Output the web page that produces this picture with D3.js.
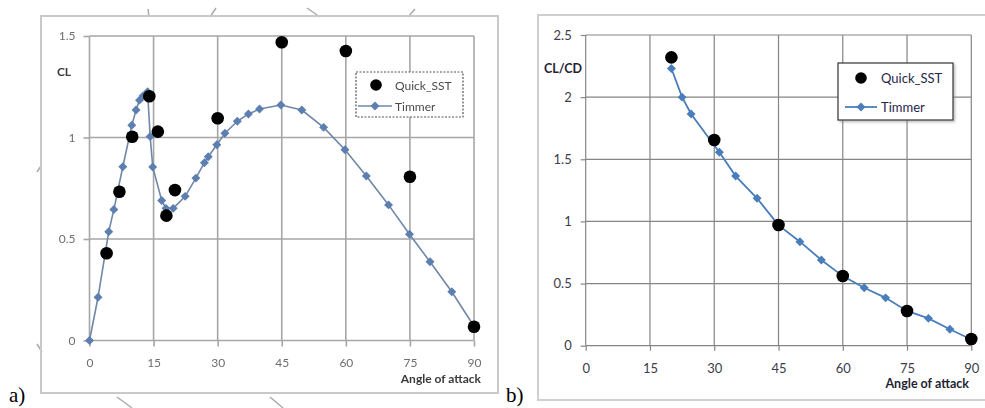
<!DOCTYPE html>
<html>
<head>
<meta charset="utf-8">
<script src="https://cdn.jsdelivr.net/npm/d3@7"></script>
<style>
  html, body { margin: 0; padding: 0; background: #fff; }
  svg { display: block; }
  text { font-family: Lato, "Open Sans", "DejaVu Sans", sans-serif; }
</style>
</head>
<body>
<svg id="fig" width="985" height="408"></svg>
<script>
// ---- data -------------------------------------------------------------
// a) lift coefficient vs angle of attack
const clQuickAngle = [4, 7, 10, 14, 16, 18, 20, 30, 45, 60, 75, 90];
const clQuickValue = [0.43, 0.733, 1.004, 1.203, 1.029, 0.615, 0.741, 1.095, 1.469, 1.426, 0.807, 0.068];
const clTimmerAngle = [0, 2, 4.5, 5.7, 7.8, 9.9, 10.9, 11.7, 12.5, 13.6, 14.2, 14.8, 16.9, 17.9, 19.6, 22.4, 24.9, 26.9, 27.8, 29.8, 31.7, 34.6, 37.2, 39.8, 44.8, 49.7, 54.8, 59.8, 64.8, 70, 74.9, 79.7, 84.8, 90];
const clTimmerValue = [0, 0.213, 0.536, 0.645, 0.856, 1.06, 1.135, 1.184, 1.205, 1.225, 1.005, 0.855, 0.69, 0.651, 0.651, 0.71, 0.8, 0.876, 0.905, 0.964, 1.021, 1.08, 1.116, 1.14, 1.16, 1.135, 1.05, 0.94, 0.81, 0.668, 0.523, 0.388, 0.24, 0.07];

// b) lift-to-drag ratio vs angle of attack
const ldQuickAngle = [20, 30, 45, 60, 75, 90];
const ldQuickValue = [2.32, 1.655, 0.971, 0.561, 0.279, 0.054];
const ldTimmerAngle = [20, 22.5, 24.6, 31.2, 35, 40, 45, 50, 55, 60, 65, 70, 75, 80, 85, 90];
const ldTimmerValue = [2.23, 2.0, 1.864, 1.556, 1.365, 1.186, 0.97, 0.837, 0.69, 0.56, 0.466, 0.385, 0.28, 0.22, 0.132, 0.05];

const xTicks = [0, 15, 30, 45, 60, 75, 90];
const clTicks = [0, 0.5, 1, 1.5];
const ldTicks = [0, 0.5, 1, 1.5, 2, 2.5];
const seriesNames = ["Quick_SST", "Timmer"];

// ---- helpers ----------------------------------------------------------
const svg = d3.select("#fig");
const zip = (a, b) => a.map((v, i) => [v, b[i]]);

// square diamond marker, like a spreadsheet series marker
const diamondType = {
  draw(ctx, size) {
    const r = Math.sqrt(size / 2);
    ctx.moveTo(0, -r); ctx.lineTo(r, 0); ctx.lineTo(0, r); ctx.lineTo(-r, 0); ctx.closePath();
  }
};

const defs = svg.append("defs");
defs.append("filter").attr("id", "soft")
  .attr("x", "-5%").attr("y", "-5%").attr("width", "110%").attr("height", "110%")
  .append("feGaussianBlur").attr("stdDeviation", 0.65);
const shadow = defs.append("filter").attr("id", "shadow");
shadow.append("feDropShadow").attr("dx", 1.5).attr("dy", 1.5).attr("stdDeviation", 0.8)
  .attr("flood-color", "#888").attr("flood-opacity", 0.6);

function drawPanel(g, cfg) {
  const { x, y, yTicks, timmer, quick } = cfg;

  // outer frame of the chart
  g.append("rect")
    .attr("x", cfg.frame[0]).attr("y", cfg.frame[1])
    .attr("width", cfg.frame[2]).attr("height", cfg.frame[3])
    .attr("fill", "none").attr("stroke", cfg.frameColor).attr("stroke-width", 2);

  // grid
  const grid = g.append("g").attr("stroke", cfg.gridColor).attr("stroke-width", cfg.gridWidth);
  grid.selectAll("line.v").data(xTicks).join("line").attr("class", "v")
    .attr("x1", d => x(d)).attr("x2", d => x(d))
    .attr("y1", y.range()[0]).attr("y2", y.range()[1]);
  grid.selectAll("line.h").data(yTicks).join("line").attr("class", "h")
    .attr("y1", d => y(d)).attr("y2", d => y(d))
    .attr("x1", x.range()[0]).attr("x2", x.range()[1]);

  // axes (ticks + labels); domain drawn by grid lines
  const yAxis = g.append("g").attr("transform", `translate(${x.range()[0]},0)`)
    .call(d3.axisLeft(y).tickValues(yTicks).tickSize(cfg.tickLen).tickPadding(cfg.yPad).tickFormat(d3.format("")));
  const xAxis = g.append("g").attr("transform", `translate(0,${y.range()[0]})`)
    .call(d3.axisBottom(x).tickValues(xTicks).tickSize(cfg.tickLen).tickPadding(cfg.xPad).tickFormat(d3.format("")));
  [yAxis, xAxis].forEach(a => {
    a.select(".domain").remove();
    a.selectAll(".tick line").attr("stroke", cfg.gridColor).attr("stroke-width", cfg.gridWidth);
    a.selectAll(".tick text").attr("fill", cfg.tickColor)
      .style("font-family", "Lato, sans-serif").style("font-size", cfg.tickSize + "px");
  });

  // axis titles
  g.append("text").attr("x", cfg.yTitle[0]).attr("y", cfg.yTitle[1])
    .attr("text-anchor", "middle").attr("dominant-baseline", "central")
    .attr("font-weight", "bold").attr("font-size", cfg.titleSize).attr("fill", cfg.titleColor)
    .text(cfg.yLabel);
  g.append("text").attr("x", cfg.xTitle[0]).attr("y", cfg.xTitle[1])
    .attr("text-anchor", "end").attr("dominant-baseline", "central")
    .attr("font-weight", "bold").attr("font-size", cfg.titleSize).attr("fill", cfg.titleColor)
    .text("Angle of attack");

  // Timmer series: line + diamonds
  const line = d3.line().x(d => x(d[0])).y(d => y(d[1]));
  g.append("path").datum(timmer).attr("d", line)
    .attr("fill", "none").attr("stroke", cfg.lineColor).attr("stroke-width", cfg.lineWidth);
  g.append("g").selectAll("path").data(timmer).join("path")
    .attr("transform", d => `translate(${x(d[0])},${y(d[1])})`)
    .attr("d", d3.symbol(diamondType, cfg.diamondSize))
    .attr("fill", cfg.markerColor);

  // Quick_SST series: black dots
  g.append("g").selectAll("circle").data(quick).join("circle")
    .attr("cx", d => x(d[0])).attr("cy", d => y(d[1])).attr("r", cfg.dotR)
    .attr("fill", "#000");

  // legend
  const L = cfg.legend;
  const lg = g.append("g");
  lg.append("rect").attr("x", L.box[0]).attr("y", L.box[1]).attr("width", L.box[2]).attr("height", L.box[3])
    .attr("fill", "#fff").attr("stroke", L.stroke).attr("stroke-width", 1.2)
    .attr("stroke-dasharray", L.dash || null).attr("filter", L.shadow ? "url(#shadow)" : null);
  lg.append("circle").attr("cx", L.dot[0]).attr("cy", L.dot[1]).attr("r", cfg.dotR - 0.5).attr("fill", "#000");
  lg.append("line").attr("x1", L.line[0]).attr("x2", L.line[1]).attr("y1", L.line[2]).attr("y2", L.line[2])
    .attr("stroke", cfg.lineColor).attr("stroke-width", cfg.lineWidth);
  lg.append("path").attr("transform", `translate(${(L.line[0] + L.line[1]) / 2},${L.line[2]})`)
    .attr("d", d3.symbol(diamondType, cfg.diamondSize)).attr("fill", cfg.markerColor);
  lg.selectAll("text.lab").data(seriesNames).join("text").attr("class", "lab")
    .attr("x", L.textX).attr("y", (d, i) => i === 0 ? L.dot[1] : L.line[2])
    .attr("dominant-baseline", "central").attr("font-size", L.fontSize).attr("fill", L.textColor)
    .text(d => d);
}

// ---- panel a) --------------------------------------------------------
const gA = svg.append("g").attr("filter", "url(#soft)");
// stray marks around the frame of panel a
const strokes = [[148, 9, 149, 17], [210, 17, 216, 8], [307, 8, 320, 17], [408, 17, 415, 9],
                 [37, 172, 41, 166], [37, 344, 42, 352], [117, 397, 132, 408], [270, 397, 283, 408]];
gA.append("g").selectAll("line").data(strokes).join("line")
  .attr("x1", d => d[0]).attr("y1", d => d[1]).attr("x2", d => d[2]).attr("y2", d => d[3])
  .attr("stroke", "#aaa").attr("stroke-width", 1.5);

drawPanel(gA, {
  x: d3.scaleLinear().domain([0, 90]).range([89.5, 474]),
  y: d3.scaleLinear().domain([0, 1.5]).range([340.5, 36]),
  yTicks: clTicks,
  timmer: zip(clTimmerAngle, clTimmerValue),
  quick: zip(clQuickAngle, clQuickValue),
  frame: [41, 16, 457, 377], frameColor: "#c9c9c9",
  gridColor: "#a6a6a6", gridWidth: 1.6, tickLen: 6, yPad: 8, xPad: 12,
  tickColor: "#6e6e6e", tickSize: 12,
  yLabel: "CL", yTitle: [64, 71], xTitle: [481, 378], titleSize: 12, titleColor: "#3a3a3a",
  lineColor: "#6f87a8", lineWidth: 1.6, markerColor: "#5b7fb0", diamondSize: 40, dotR: 6.3,
  legend: { box: [356, 72, 107, 45], stroke: "#555", dash: "2,1.5", shadow: false,
            dot: [376, 85], line: [358, 392, 106], textX: 395, fontSize: 12, textColor: "#4a4a4a" }
});
svg.append("text").attr("x", 9).attr("y", 402)
  .style("font-family", "'Liberation Serif', 'DejaVu Serif', serif").attr("font-size", 21).attr("fill", "#000")
  .text("a)");

// ---- panel b) --------------------------------------------------------
const gB = svg.append("g");
drawPanel(gB, {
  x: d3.scaleLinear().domain([0, 90]).range([585.7, 971.3]),
  y: d3.scaleLinear().domain([0, 2.5]).range([345.7, 35]),
  yTicks: ldTicks,
  timmer: zip(ldTimmerAngle, ldTimmerValue),
  quick: zip(ldQuickAngle, ldQuickValue),
  frame: [538, 15, 460, 385], frameColor: "#cfcfcf",
  gridColor: "#858585", gridWidth: 1.2, tickLen: 5, yPad: 9, xPad: 13,
  tickColor: "#3c3c4c", tickSize: 13,
  yLabel: "CL/CD", yTitle: [563, 68], xTitle: [969, 383], titleSize: 12.5, titleColor: "#1f1f33",
  lineColor: "#4a7ebb", lineWidth: 1.8, markerColor: "#4a7ebb", diamondSize: 40, dotR: 6.3,
  legend: { box: [838, 63, 115, 57], stroke: "#333", shadow: true,
            dot: [861, 78], line: [845, 877, 107], textX: 881, fontSize: 13, textColor: "#26264a" }
});
svg.append("text").attr("x", 506).attr("y", 402)
  .style("font-family", "'Liberation Serif', 'DejaVu Serif', serif").attr("font-size", 21).attr("fill", "#000")
  .text("b)");
</script>
</body>
</html>
